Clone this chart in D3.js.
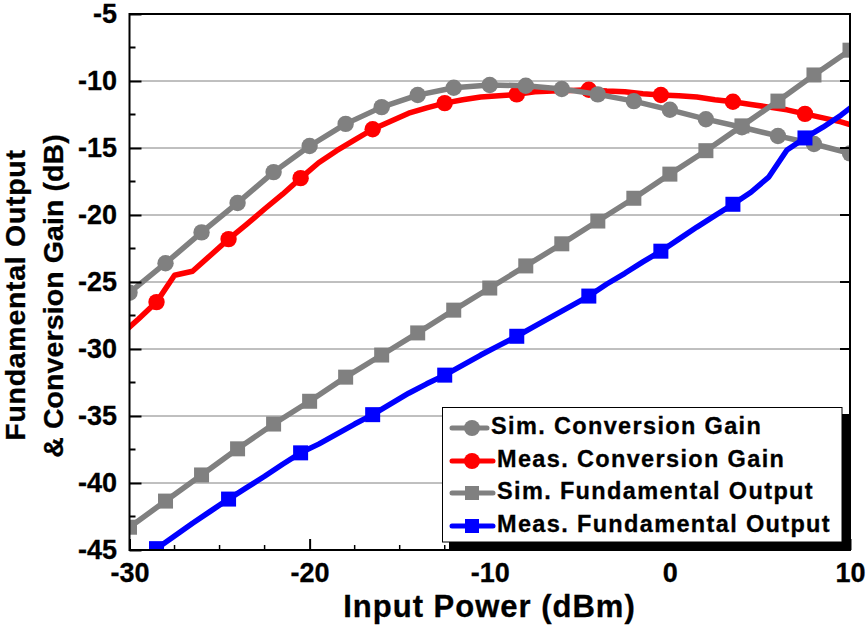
<!DOCTYPE html>
<html>
<head>
<meta charset="utf-8">
<script src="https://cdn.jsdelivr.net/npm/d3@7"></script>
<style>
  html, body { margin: 0; background: #fff; }
  text { font-family: "Liberation Sans", Arial, sans-serif; font-weight: bold; fill: #000; stroke: #000; stroke-width: 0.3px; }
</style>
</head>
<body>
<svg width="868" height="628"></svg>
<script>
// simulated curves are sampled every 2 dB
var simX = [-30, -28, -26, -24, -22, -20, -18, -16, -14, -12, -10, -8, -6, -4, -2, 0, 2, 4, 6, 8, 10];
var simGain = [-25.8, -23.6, -21.3, -19.1, -16.8, -14.85, -13.2, -11.95, -11.05, -10.5, -10.3, -10.35, -10.6, -11, -11.5, -12.15, -12.85, -13.45, -14.1, -14.7, -15.4];
var simOutput = [-43.3, -41.35, -39.4, -37.45, -35.6, -33.9, -32.1, -30.45, -28.8, -27.1, -25.45, -23.8, -22.15, -20.45, -18.75, -16.95, -15.2, -13.35, -11.5, -9.55, -7.7];

// measured curves are sampled every 1 dB, marker on every 4th
var measX = [-30.5, -29.5, -28.5, -27.5, -26.5, -25.5, -24.5, -23.5, -22.5, -21.5, -20.5, -19.5, -18.5, -17.5, -16.5, -15.5, -14.5, -13.5, -12.5, -11.5, -10.5, -9.5, -8.5, -7.5, -6.5, -5.5, -4.5, -3.5, -2.5, -1.5, -0.5, 0.5, 1.5, 2.5, 3.5, 4.5, 5.5, 6.5, 7.5, 8.5, 9.5, 10.5];
var measGain = [-28.96, -27.76, -26.5, -24.5, -24.2, -23, -21.8, -20.7, -19.55, -18.45, -17.25, -16.1, -15.2, -14.4, -13.6, -13, -12.4, -12, -11.65, -11.4, -11.2, -11.1, -11, -10.8, -10.75, -10.7, -10.65, -10.75, -10.8, -10.95, -11.05, -11.1, -11.2, -11.4, -11.55, -11.75, -11.95, -12.15, -12.45, -12.75, -13.05, -13.45];
var measOutput = [-47.1, -46.05, -44.9, -43.95, -43, -42.1, -41.2, -40.35, -39.5, -38.6, -37.75, -37.1, -36.35, -35.6, -34.9, -34.1, -33.3, -32.6, -31.95, -31.2, -30.45, -29.75, -29.05, -28.3, -27.55, -26.8, -26.05, -25.15, -24.35, -23.5, -22.7, -21.8, -20.9, -20.05, -19.2, -18.3, -17.15, -15.15, -14.25, -13.45, -12.55, -11.5];

var xTicks = [-30, -20, -10, 0, 10];
var xMinorTicks = [-27.5, -25, -22.5, -17.5, -15, -12.5, -7.5, -5, -2.5, 2.5, 5, 7.5];
var yTicks = [-5, -10, -15, -20, -25, -30, -35, -40, -45];
var yMinorTicks = [-7.5, -12.5, -17.5, -22.5, -27.5, -32.5, -37.5, -42.5];
var gridValues = [-10, -15, -20, -25, -30, -35, -40];

var legendNames = ['Sim. Conversion Gain', 'Meas. Conversion Gain', 'Sim. Fundamental Output', 'Meas. Fundamental Output'];

var svg = d3.select('svg'),
  left = 129.5,
  right = 850,
  top_ = 14,
  bottom = 550;

var x = d3.scaleLinear().domain([-30, 10]).range([left, right]);
var y = d3.scaleLinear().domain([-45, -5]).range([bottom, top_]);

svg.append('clipPath').attr('id', 'plot')
  .append('rect')
  .attr('x', left).attr('y', top_)
  .attr('width', right - left).attr('height', bottom - top_);

svg.append('g').selectAll('line')
  .data(gridValues)
  .enter().append('line')
  .attr('x1', left).attr('x2', right)
  .attr('y1', d => y(d)).attr('y2', d => y(d))
  .attr('stroke', '#808080')
  .attr('stroke-width', 1);

function zip(xs, ys) {
  return xs.map((d, i) => [d, ys[i]]);
}

var lineGen = d3.line().x(d => x(d[0])).y(d => y(d[1]));

function drawSeries(points, color, width, shape, every, offset) {
  var g = svg.append('g').attr('clip-path', 'url(#plot)');
  g.append('path')
    .attr('d', lineGen(points))
    .attr('fill', 'none')
    .attr('stroke', color)
    .attr('stroke-width', width)
    .attr('stroke-linejoin', 'round');
  var marks = points.filter((d, i) => i % every === offset);
  if (shape === 'circle') {
    g.selectAll('circle').data(marks).enter().append('circle')
      .attr('cx', d => x(d[0])).attr('cy', d => y(d[1]))
      .attr('r', 8.2).attr('fill', color);
  } else {
    g.selectAll('rect').data(marks).enter().append('rect')
      .attr('x', d => x(d[0]) - 7.5).attr('y', d => y(d[1]) - 7.5)
      .attr('width', 15).attr('height', 15).attr('fill', color);
  }
}

drawSeries(zip(measX, measGain), '#ff0000', 5.5, 'circle', 4, 2);
drawSeries(zip(simX, simGain), '#808080', 5.5, 'circle', 1, 0);
drawSeries(zip(simX, simOutput), '#808080', 5.5, 'rect', 1, 0);
drawSeries(zip(measX, measOutput), '#0000ff', 5.5, 'rect', 4, 2);

// frame
svg.append('rect')
  .attr('x', left).attr('y', top_)
  .attr('width', right - left).attr('height', bottom - top_)
  .attr('fill', 'none').attr('stroke', '#000').attr('stroke-width', 2);

// axes, ticks point inward
var xAxis = d3.axisBottom(x).tickValues(xTicks).tickSize(-11).tickPadding(13).tickFormat(d => String(d));
var yAxis = d3.axisLeft(y).tickValues(yTicks).tickSize(-12).tickPadding(12.5).tickFormat(d => String(d));

function styleAxis(g) {
  g.select('.domain').remove();
  g.selectAll('line').attr('stroke', '#000').attr('stroke-width', 2);
  g.selectAll('text').style('font-size', '27px');
}

svg.append('g').attr('transform', 'translate(0,' + bottom + ')').call(xAxis).call(styleAxis);
svg.append('g').attr('transform', 'translate(' + left + ',0)').call(yAxis).call(styleAxis);

svg.append('g').selectAll('line')
  .data(xMinorTicks).enter().append('line')
  .attr('x1', d => x(d)).attr('x2', d => x(d))
  .attr('y1', bottom).attr('y2', bottom - 5)
  .attr('stroke', '#000').attr('stroke-width', 1.5);

svg.append('g').selectAll('line')
  .data(yMinorTicks).enter().append('line')
  .attr('x1', left).attr('x2', left + 6)
  .attr('y1', d => y(d)).attr('y2', d => y(d))
  .attr('stroke', '#000').attr('stroke-width', 2);

svg.append('g').selectAll('line')
  .data(gridValues).enter().append('line')
  .attr('x1', right - 10).attr('x2', right)
  .attr('y1', d => y(d)).attr('y2', d => y(d))
  .attr('stroke', '#000').attr('stroke-width', 2);

// titles
svg.append('text')
  .attr('x', 489.5).attr('y', 617)
  .attr('text-anchor', 'middle')
  .style('font-size', '31px')
  .style('letter-spacing', '1px')
  .text('Input Power (dBm)');

svg.append('text')
  .attr('transform', 'translate(24.5,295) rotate(-90)')
  .attr('text-anchor', 'middle')
  .style('font-size', '28.5px')
  .style('letter-spacing', '0.7px')
  .text('Fundamental Output');

svg.append('text')
  .attr('transform', 'translate(63,296) rotate(-90)')
  .attr('text-anchor', 'middle')
  .style('font-size', '28.5px')
  .style('letter-spacing', '0.1px')
  .text('& Conversion Gain (dB)');

// legend with its drop shadow
var legend = svg.append('g');
legend.append('rect')
  .attr('x', 449).attr('y', 414).attr('width', 402).attr('height', 137)
  .attr('fill', '#000');
legend.append('rect')
  .attr('x', 442.5).attr('y', 407.5).attr('width', 399.5).attr('height', 134.5)
  .attr('fill', '#fff').attr('stroke', '#000').attr('stroke-width', 1);

var legendColors = ['#808080', '#ff0000', '#808080', '#0000ff'];
var legendShapes = ['circle', 'circle', 'rect', 'rect'];
var legendLineEnd = [487, 493, 493, 493];
var legendTextX = [491, 497, 497, 497];
var legendRowY = [428, 461, 493, 526];

legendNames.forEach(function(name, i) {
  legend.append('line')
    .attr('x1', 452).attr('x2', legendLineEnd[i])
    .attr('y1', legendRowY[i]).attr('y2', legendRowY[i])
    .attr('stroke', legendColors[i]).attr('stroke-width', 5)
    .attr('stroke-linecap', 'round');
  if (legendShapes[i] === 'circle') {
    legend.append('circle')
      .attr('cx', 472).attr('cy', legendRowY[i]).attr('r', 8)
      .attr('fill', legendColors[i]);
  } else {
    legend.append('rect')
      .attr('x', 465).attr('y', legendRowY[i] - 7).attr('width', 14).attr('height', 14)
      .attr('fill', legendColors[i]);
  }
  legend.append('text')
    .attr('x', legendTextX[i]).attr('y', legendRowY[i] + 6)
    .style('font-size', '23.5px')
    .style('letter-spacing', '1.35px')
    .text(name);
});
</script>
</body>
</html>
